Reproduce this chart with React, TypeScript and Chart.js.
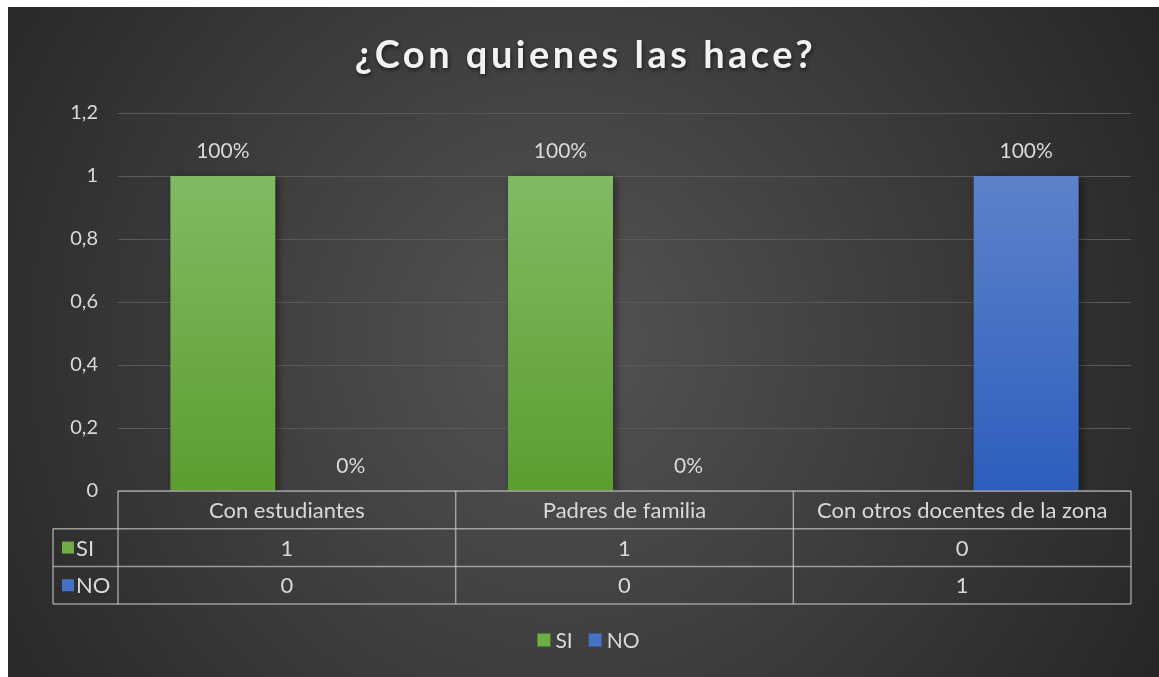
import React, { useEffect, useRef } from "react";
import { Chart, registerables } from "chart.js";

Chart.register(...registerables);

const TITLE = "¿Con quienes las hace?";
const CATEGORIES = ["Con estudiantes", "Padres de familia", "Con otros docentes de la zona"];
const SERIES_NAMES = ["SI", "NO"];
const SI_VALUES = [1, 1, 0];
const NO_VALUES = [0, 0, 1];
const SI_LABELS = ["100%", "100%", ""];
const NO_LABELS = ["0%", "0%", "100%"];
const Y_MIN = 0;
const Y_MAX = 1.2;
const Y_STEP = 0.2;

const FONT = "Lato, 'Noto Sans', sans-serif";
const TEXT = "#d9d9d9";
const SOLID = ["#70ad47", "#4472c4"];
const GRAD = [
  ["#82ba63", "#5c9d30"],
  ["#5d82ca", "#2d5ebd"],
];

const fmt = (v: number) => String(Number(v.toFixed(1))).replace(".", ",");

export default function App() {
  const ref = useRef<HTMLCanvasElement | null>(null);

  useEffect(() => {
    const canvas = ref.current;
    if (!canvas) return;

    const barGrad = (idx: number) => (c: any) => {
      const chart = c.chart;
      const area = chart.chartArea;
      if (!area) return SOLID[idx];
      const y = chart.scales.y;
      const g = chart.ctx.createLinearGradient(0, y.getPixelForValue(1), 0, y.getPixelForValue(0));
      g.addColorStop(0, GRAD[idx][0]);
      g.addColorStop(1, GRAD[idx][1]);
      return g;
    };

    const background = {
      id: "bg",
      beforeDraw(chart: any) {
        const { ctx, width, height } = chart;
        ctx.save();
        const g = ctx.createRadialGradient(width * 0.48, height * 0.5, 0, width * 0.48, height * 0.5, width * 0.62);
        g.addColorStop(0, "#545454");
        g.addColorStop(1, "#242424");
        ctx.fillStyle = g;
        ctx.fillRect(0, 0, width, height);
        // title
        ctx.font = `bold 38px ${FONT}`;
        (ctx as any).letterSpacing = "3.5px";
        ctx.textAlign = "center";
        ctx.textBaseline = "middle";
        ctx.shadowColor = "rgba(0,0,0,0.6)";
        ctx.shadowBlur = 4;
        ctx.shadowOffsetX = 1;
        ctx.shadowOffsetY = 2;
        ctx.fillStyle = "#f2f2f2";
        ctx.fillText(TITLE, width / 2 + 2, 49);
        ctx.restore();
      },
    };

    const shadow = {
      id: "barShadow",
      beforeDatasetsDraw(chart: any) {
        const ctx = chart.ctx;
        ctx.save();
        ctx.shadowColor = "rgba(0,0,0,0.45)";
        ctx.shadowBlur = 8;
        ctx.shadowOffsetX = 3;
        ctx.shadowOffsetY = 2;
      },
      afterDatasetsDraw(chart: any) {
        chart.ctx.restore();
      },
    };

    const overlay = {
      id: "overlay",
      afterDraw(chart: any) {
        const { ctx, chartArea, width } = chart;
        const labelSets = [SI_LABELS, NO_LABELS];
        ctx.save();
        // data labels
        ctx.font = `21px ${FONT}`;
        ctx.fillStyle = TEXT;
        ctx.textAlign = "center";
        ctx.textBaseline = "middle";
        chart.data.datasets.forEach((_: any, di: number) => {
          const meta = chart.getDatasetMeta(di);
          meta.data.forEach((el: any, i: number) => {
            const t = labelSets[di][i];
            if (t) ctx.fillText(t, el.x, el.y - 25);
          });
        });

        // data table
        const n = CATEGORIES.length;
        const left = chartArea.left;
        const right = chartArea.right;
        const catW = (right - left) / n;
        const top = chartArea.bottom;
        const rowH = 37.7;
        const leftCol = 45;
        ctx.strokeStyle = "rgba(200,200,200,0.7)";
        ctx.lineWidth = 1.5;
        const line = (x1: number, y1: number, x2: number, y2: number) => {
          ctx.beginPath();
          ctx.moveTo(x1, y1);
          ctx.lineTo(x2, y2);
          ctx.stroke();
        };
        line(left, top, right, top);
        line(leftCol, top + rowH, right, top + rowH);
        line(leftCol, top + 2 * rowH, right, top + 2 * rowH);
        line(leftCol, top + 3 * rowH, right, top + 3 * rowH);
        line(leftCol, top + rowH, leftCol, top + 3 * rowH);
        for (let i = 0; i <= n; i++) {
          const xb = left + i * catW;
          line(xb, top, xb, top + 3 * rowH);
        }
        ctx.font = `22px ${FONT}`;
        ctx.fillStyle = TEXT;
        const rows = [SI_VALUES, NO_VALUES];
        CATEGORIES.forEach((c, i) => {
          const cx = left + (i + 0.5) * catW;
          ctx.textAlign = "center";
          ctx.fillText(c, cx, top + rowH / 2 + 1);
          rows.forEach((r, ri) => {
            ctx.fillText(String(r[i]), cx, top + rowH * (ri + 1.5) + 1);
          });
        });
        SERIES_NAMES.forEach((s, ri) => {
          const cy = top + rowH * (ri + 1.5);
          ctx.fillStyle = SOLID[ri];
          ctx.fillRect(leftCol + 9, cy - 6, 12, 12);
          ctx.fillStyle = TEXT;
          ctx.textAlign = "left";
          ctx.fillText(s, leftCol + 23, cy + 1);
        });

        // legend
        ctx.font = `21px ${FONT}`;
        const box = 13;
        const gap = 5;
        const itemGap = 16;
        const widths = SERIES_NAMES.map((s) => box + gap + ctx.measureText(s).width);
        const total = widths.reduce((a, b) => a + b, 0) + itemGap * (SERIES_NAMES.length - 1);
        let x = width / 2 + 5 - total / 2;
        const ly = 633;
        SERIES_NAMES.forEach((s, i) => {
          ctx.fillStyle = SOLID[i];
          ctx.fillRect(x, ly - box / 2, box, box);
          ctx.fillStyle = TEXT;
          ctx.textAlign = "left";
          ctx.fillText(s, x + box + gap, ly + 1);
          x += widths[i] + itemGap;
        });
        ctx.restore();
      },
    };

    const chart = new Chart(canvas, {
      type: "bar",
      data: {
        labels: CATEGORIES,
        datasets: [
          { label: SERIES_NAMES[0], data: SI_VALUES, backgroundColor: barGrad(0), borderWidth: 0 },
          { label: SERIES_NAMES[1], data: NO_VALUES, backgroundColor: barGrad(1), borderWidth: 0 },
        ],
      },
      options: {
        animation: false,
        responsive: false,
        maintainAspectRatio: false,
        layout: { padding: { top: 106, right: 28, left: 0, bottom: 57 } },
        datasets: { bar: { categoryPercentage: 0.758, barPercentage: 0.82 } },
        scales: {
          x: {
            grid: { display: false },
            border: { display: false },
            ticks: { display: false },
            afterFit: (s: any) => {
              s.height = 129;
            },
          },
          y: {
            min: Y_MIN,
            max: Y_MAX,
            border: { display: false },
            grid: { color: "#5a5a5a", lineWidth: 1, drawTicks: false },
            ticks: {
              stepSize: Y_STEP,
              padding: 20,
              color: TEXT,
              font: { family: FONT, size: 20 },
              callback: (v: any) => fmt(Number(v)),
            },
            afterFit: (s: any) => {
              s.width = 110;
            },
          },
        },
        plugins: {
          title: { display: false },
          tooltip: { enabled: false },
          legend: { display: false },
        },
      },
      plugins: [background, shadow, overlay],
    });

    return () => chart.destroy();
  }, []);

  return (
    <div style={{ position: "absolute", left: 8, top: 7, width: 1151, height: 670 }}>
      <canvas ref={ref} width={1151} height={670} style={{ display: "block", width: 1151, height: 670 }} />
    </div>
  );
}
